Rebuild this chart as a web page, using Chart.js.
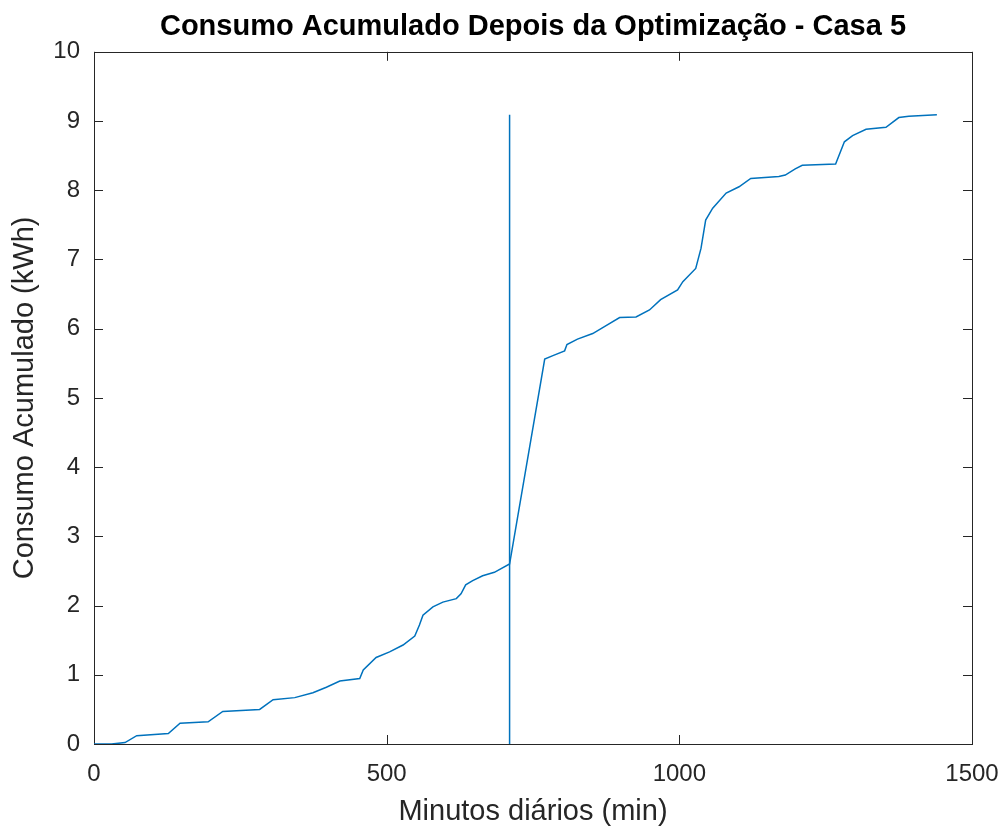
<!DOCTYPE html>
<html>
<head>
<meta charset="utf-8">
<title>Consumo Acumulado Depois da Optimização - Casa 5</title>
<script src="https://cdn.jsdelivr.net/npm/chart.js@4/dist/chart.umd.min.js"></script>
<style>
  html, body { margin: 0; padding: 0; background: #fff; }
  #wrap { width: 1008px; height: 833px; }
</style>
</head>
<body>
<div id="wrap"><canvas id="chart" width="1008" height="833"></canvas></div>
<script>
// minutes of the day and cumulative consumption (kWh)
const minutes = [0, 30, 53, 73, 127, 147, 195, 220, 283, 306, 343, 374, 397, 420, 454, 460, 482, 505,
  528, 548, 556, 562, 579, 596, 619, 627, 635, 647, 664, 684, 710, 770, 784, 804, 808, 826, 852, 872,
  898, 926, 949, 968, 997, 1006, 1028, 1037, 1045, 1057, 1080, 1102, 1122, 1170, 1181, 1198, 1210,
  1267, 1282, 1296, 1319, 1353, 1375, 1392, 1440];
const consumo = [0, 0, 0.02, 0.12, 0.15, 0.30, 0.32, 0.47, 0.50, 0.64, 0.67, 0.74, 0.82, 0.91, 0.945, 1.07, 1.25, 1.33,
  1.43, 1.56, 1.72, 1.86, 1.98, 2.05, 2.10, 2.17, 2.30, 2.36, 2.43, 2.48, 2.60, 5.56, 5.61, 5.68, 5.77, 5.85, 5.93, 6.03,
  6.16, 6.17, 6.27, 6.42, 6.56, 6.68, 6.87, 7.16, 7.57, 7.74, 7.96, 8.05, 8.17, 8.20, 8.22, 8.31, 8.36,
  8.38, 8.70, 8.79, 8.88, 8.91, 9.05, 9.07, 9.09];

// vertical marker line
const markerX = [710, 710];
const markerY = [0, 9.09];

const xTicks = [0, 500, 1000, 1500];
const yTicks = [0, 1, 2, 3, 4, 5, 6, 7, 8, 9, 10];

const lineColor = '#0072BD';
const axisColor = '#262626';
const fontFamily = '"Liberation Sans", Arial, Helvetica, sans-serif';

// MATLAB style box with inward ticks on all four sides
const matlabAxes = {
  id: 'matlabAxes',
  beforeDatasetsDraw(chart) {
    const { ctx, chartArea: a, scales } = chart;
    const len = 9;
    ctx.save();
    ctx.strokeStyle = axisColor;
    ctx.lineWidth = 1;
    ctx.beginPath();
    scales.x.ticks.forEach(t => {
      const px = Math.round(scales.x.getPixelForValue(t.value)) + 0.5;
      ctx.moveTo(px, a.bottom); ctx.lineTo(px, a.bottom - len);
      ctx.moveTo(px, a.top); ctx.lineTo(px, a.top + len);
    });
    scales.y.ticks.forEach(t => {
      const py = Math.round(scales.y.getPixelForValue(t.value)) + 0.5;
      ctx.moveTo(a.left, py); ctx.lineTo(a.left + len, py);
      ctx.moveTo(a.right, py); ctx.lineTo(a.right - len, py);
    });
    ctx.stroke();
    ctx.strokeRect(Math.round(a.left) + 0.5, Math.round(a.top) + 0.5,
      Math.round(a.right - a.left), Math.round(a.bottom - a.top));
    ctx.restore();
  }
};

const ctx = document.getElementById('chart').getContext('2d');

new Chart(ctx, {
  type: 'line',
  data: {
    datasets: [
      {
        label: 'Consumo',
        data: minutes.map((m, i) => ({ x: m, y: consumo[i] })),
        borderColor: lineColor,
        borderWidth: 1.5,
        pointRadius: 0,
        tension: 0,
        fill: false
      },
      {
        label: 'Marcador',
        data: markerX.map((m, i) => ({ x: m, y: markerY[i] })),
        borderColor: lineColor,
        borderWidth: 1.5,
        pointRadius: 0,
        fill: false
      }
    ]
  },
  options: {
    responsive: false,
    animation: false,
    layout: { padding: { left: 0, right: 36, top: 0, bottom: 0 } },
    plugins: {
      legend: { display: false },
      tooltip: { enabled: false },
      title: {
        display: true,
        fullSize: false,
        text: 'Consumo Acumulado Depois da Optimização - Casa 5',
        color: '#000',
        font: { family: fontFamily, size: 29, weight: 'bold' },
        padding: { top: 10, bottom: 7 }
      }
    },
    scales: {
      x: {
        type: 'linear',
        min: 0,
        max: 1500,
        afterBuildTicks: s => { s.ticks = xTicks.map(v => ({ value: v })); },
        afterFit: s => { s.height = 89; s.paddingRight = 0; s.paddingLeft = 0; },
        grid: { display: false, drawTicks: false },
        border: { display: false },
        ticks: {
          color: axisColor,
          padding: 16,
          maxRotation: 0,
          font: { family: fontFamily, size: 24 },
          callback: v => String(v)
        },
        title: {
          display: true,
          text: 'Minutos diários (min)',
          color: axisColor,
          font: { family: fontFamily, size: 29 },
          padding: { top: 0, bottom: 4 }
        }
      },
      y: {
        min: 0,
        max: 10,
        afterBuildTicks: s => { s.ticks = yTicks.map(v => ({ value: v })); },
        afterFit: s => { s.width = 94; s.paddingTop = 0; s.paddingBottom = 0; },
        grid: { display: false, drawTicks: false },
        border: { display: false },
        ticks: {
          color: axisColor,
          padding: 14,
          font: { family: fontFamily, size: 24 },
          callback: v => String(v)
        },
        title: {
          display: true,
          text: 'Consumo Acumulado (kWh)',
          color: axisColor,
          font: { family: fontFamily, size: 29 },
          padding: { top: 8, bottom: 0 }
        }
      }
    }
  },
  plugins: [matlabAxes]
});
</script>
</body>
</html>
